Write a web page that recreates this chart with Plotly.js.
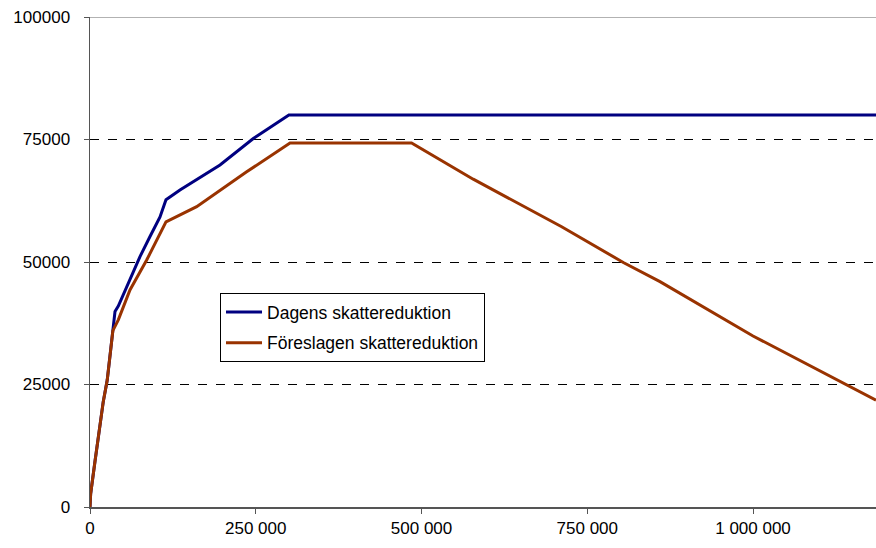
<!DOCTYPE html>
<html>
<head>
<meta charset="utf-8">
<script src="https://cdn.plot.ly/plotly-3.0.1.min.js"></script>
<style>html,body{margin:0;padding:0;background:#fff;}#chart{width:876px;height:548px;}</style>
</head>
<body>
<div id="chart"></div>
<script>
// Data
var seriesNames = ["Dagens skattereduktion", "Föreslagen skattereduktion"];

var dagensX = [0, 1000, 7500, 15000, 20000, 26000, 31000, 34500, 37700, 42700, 55300, 75400, 90500, 105600, 114600, 135700, 196100, 246300, 300000, 1185500];
var dagensY = [0, 2700, 9300, 16400, 21500, 25900, 31500, 36000, 39900, 41000, 45000, 51100, 55200, 59200, 62700, 64700, 69800, 75200, 80000, 80000];

var foreslagenX = [0, 1000, 7500, 15000, 20000, 26000, 31000, 34500, 42700, 60300, 85500, 114600, 160900, 236300, 301700, 485000, 578000, 668600, 711400, 804400, 859700, 1000000, 1143800, 1185500];
var foreslagenY = [0, 2700, 9300, 16400, 21500, 25900, 31500, 36000, 38200, 44300, 50400, 58200, 61300, 68400, 74300, 74300, 66900, 60300, 57200, 49900, 46000, 34900, 24800, 21800];

var xTickVals = [0, 250000, 500000, 750000, 1000000];
var xTickText = ["0", "250 000", "500 000", "750 000", "1 000 000"];
var yTickVals = [0, 25000, 50000, 75000, 100000];
var yTickText = ["0", "25000", "50000", "75000", "100000"];

var xMax = 1185500;
var yMax = 100000;

var font = "Liberation Sans, Arial, sans-serif";

var traces = [
  {x: dagensX, y: dagensY, name: seriesNames[0], type: "scatter", mode: "lines",
   line: {color: "#000080", width: 3}, legendgroup: "a"},
  {x: foreslagenX, y: foreslagenY, name: seriesNames[1], type: "scatter", mode: "lines",
   line: {color: "#993300", width: 3}, legendgroup: "b"}
];

var layout = {
  width: 876, height: 548,
  margin: {l: 90, r: 0, t: 17, b: 41, pad: 0},
  paper_bgcolor: "#fff", plot_bgcolor: "#fff",
  font: {family: font, size: 17, color: "#000"},
  showlegend: true,
  legend: {
    x: 0.1654, y: 0.4367, xanchor: "left", yanchor: "top",
    bgcolor: "#fff", bordercolor: "#000", borderwidth: 1,
    font: {family: font, size: 17.5, color: "#000"},
    traceorder: "grouped", tracegroupgap: 5, itemwidth: 36
  },
  xaxis: {
    range: [0, xMax], tickvals: xTickVals, ticktext: xTickText,
    showgrid: false, zeroline: false,
    showline: true, linecolor: "#555", linewidth: 1.5,
    ticks: "outside", ticklen: 5, tickcolor: "#555", tickwidth: 1,
    ticklabelstandoff: 0,
    tickfont: {family: font, size: 17, color: "#000"}, fixedrange: true
  },
  yaxis: {
    range: [0, yMax], tickvals: yTickVals, ticktext: yTickText,
    showgrid: true, gridcolor: "#000", gridwidth: 1, griddash: "dash",
    zeroline: false,
    showline: true, linecolor: "#555", linewidth: 1.5,
    ticks: "outside", ticklen: 5, tickcolor: "#555", tickwidth: 1,
    ticklabelstandoff: 10,
    tickfont: {family: font, size: 17, color: "#000"}, fixedrange: true
  },
  shapes: [
    {type: "line", xref: "paper", yref: "y", x0: 0, x1: 1, y0: yMax, y1: yMax,
     line: {color: "#999", width: 1.5}}
  ]
};

Plotly.newPlot("chart", traces, layout, {displayModeBar: false, staticPlot: true});
</script>
</body>
</html>
